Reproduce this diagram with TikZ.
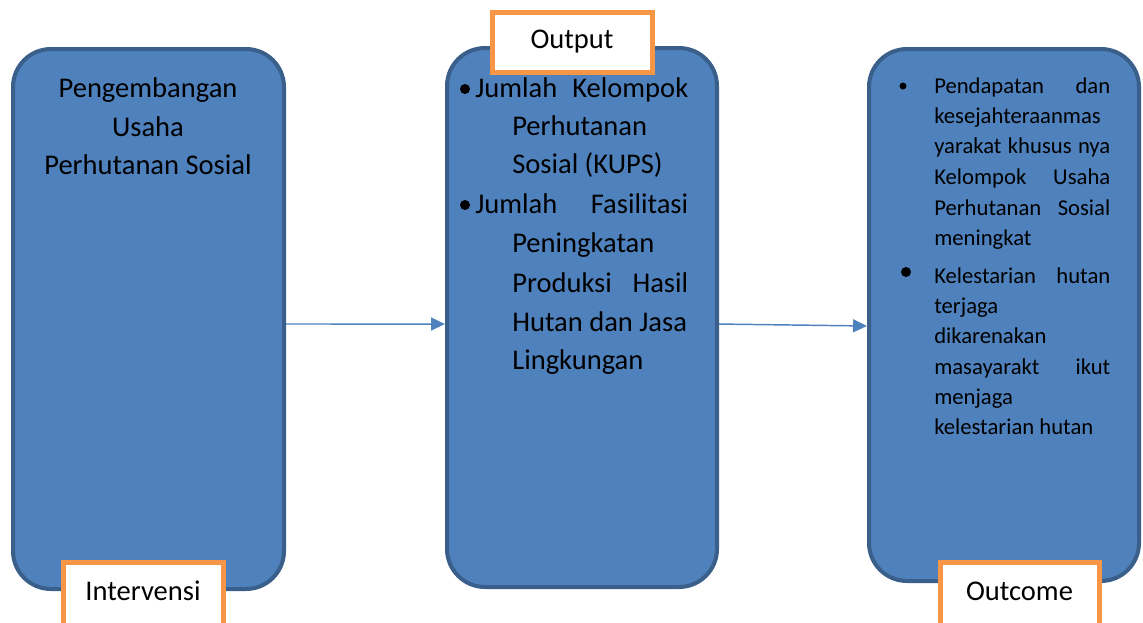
\documentclass[tikz,border=0pt]{standalone}
\usepackage{fontspec}
\setmainfont{Carlito}
\usetikzlibrary{arrows.meta}
\newlength\pxu \setlength\pxu{0.75pt}
\definecolor{boxfill}{HTML}{4F81BD}
\definecolor{boxline}{HTML}{3A5F8B}
\definecolor{lblline}{HTML}{F79646}
\begin{document}
\begin{tikzpicture}[x=0.75pt,y=-0.75pt,
 bluebox/.style={draw=boxline,fill=boxfill,line width=3pt,rounded corners=28.5pt,inner sep=0pt},
 lblbox/.style={draw=lblline,fill=white,line width=3.75pt,inner sep=0pt,font=\fontsize{21.4}{25}\selectfont,text height=14.25pt,text depth=4.5pt},
 big/.style={font=\fontsize{21.4}{25}\selectfont,inner sep=0pt,anchor=base west},
 bigc/.style={font=\fontsize{21.4}{25}\selectfont,inner sep=0pt,anchor=base},
 small/.style={font=\fontsize{17}{20}\selectfont,inner sep=0pt,anchor=base west},
 conn/.style={draw=boxfill,line width=1.1pt,-{Triangle[length=10.5pt,width=9.75pt]}},
 dot/.style={circle,fill=black,inner sep=0pt,minimum size=#1}
]
\useasboundingbox (0,0) rectangle (1143,622);
% boxes
\node[bluebox,minimum width=203.25pt,minimum height=405pt] (b1) at (148.5,319) {};
\node[bluebox,minimum width=202.5pt,minimum height=404.25pt] (b2) at (582,317.5) {};
\node[bluebox,minimum width=202.5pt,minimum height=399pt] (b3) at (1004,315) {};
% labels
\node[lblbox,minimum width=120pt,minimum height=45pt] (lout) at (572,42) {Output};
\node[lblbox,minimum width=120pt,minimum height=47.25pt] (lint) at (143,593.5) {Intervensi};
\node[lblbox,minimum width=119.25pt,minimum height=47.25pt] (lotc) at (1019.5,593.5) {Outcome};
% connectors
\draw[conn] ([yshift=-3.75pt]b1.east) -- ([yshift=-4.9pt]b2.west);
\draw[conn] ([yshift=-4.9pt]b2.east) -- ([yshift=-8.25pt]b3.west);
% box 1 text
\node[bigc] (t11) at (148,97) {Pengembangan};
\node[bigc] (t12) at (148,136) {Usaha};
\node[bigc] (t13) at (148,174) {Perhutanan Sosial};
% box 2 text
\node[dot=7.5pt] (d21) at (465,89) {};
\node[big] (t21) at (475,97) {\hbox to 213\pxu{Jumlah\hfill Kelompok}};
\node[big] (t22) at (512,135) {Perhutanan};
\node[big] (t23) at (512,173) {Sosial (KUPS)};
\node[dot=7.5pt] (d22) at (465,205) {};
\node[big] (t24) at (475,213) {\hbox to 213\pxu{Jumlah\hfill Fasilitasi}};
\node[big] (t25) at (512,252) {Peningkatan};
\node[big] (t26) at (512,292) {\hbox to 176\pxu{Produksi\hfill Hasil}};
\node[big] (t27) at (512,331) {Hutan dan Jasa};
\node[big] (t28) at (512,369) {Lingkungan};
% box 3 text
\node[dot=5.25pt] (d31) at (903,86) {};
\node[small] (t31) at (934,93) {\hbox to 176\pxu{Pendapatan\hfill dan}};
\node[small] (t32) at (934,123) {kesejahteraanmas};
\node[small] (t33) at (934,153) {\hbox to 176\pxu{yarakat khusus nya}};
\node[small] (t34) at (934,184) {\hbox to 176\pxu{Kelompok\hfill Usaha}};
\node[small] (t35) at (934,215) {\hbox to 176\pxu{Perhutanan\hfill Sosial}};
\node[small] (t36) at (934,245) {meningkat};
\node[dot=7.5pt] (d32) at (906,272) {};
\node[small] (t37) at (934,283) {\hbox to 176\pxu{Kelestarian\hfill hutan}};
\node[small] (t38) at (934,313) {terjaga};
\node[small] (t39) at (934,343) {dikarenakan};
\node[small] (t3a) at (934,374) {\hbox to 176\pxu{masayarakt\hfill ikut}};
\node[small] (t3b) at (934,404) {menjaga};
\node[small] (t3c) at (934,434) {kelestarian hutan};
\end{tikzpicture}
\end{document}
